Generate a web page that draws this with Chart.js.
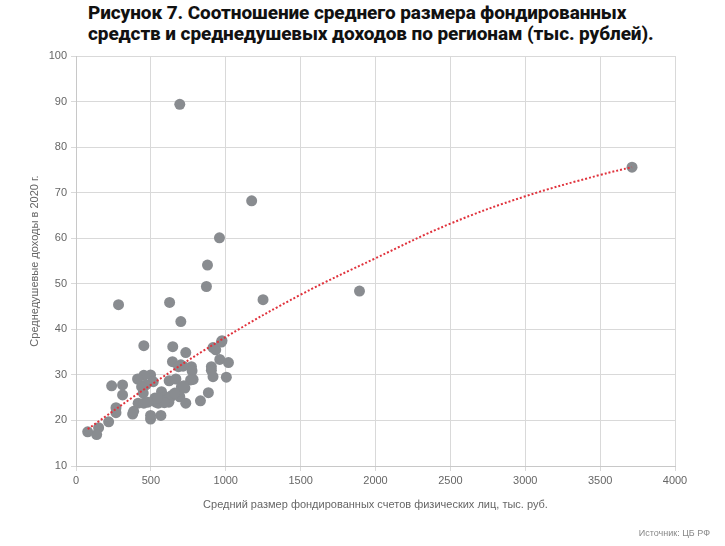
<!DOCTYPE html>
<html>
<head>
<meta charset="utf-8">
<script src="https://cdn.jsdelivr.net/npm/chart.js@4.4.1/dist/chart.umd.min.js"></script>
<style>
  body { margin: 0; background: #fff; width: 725px; height: 546px; position: relative; overflow: hidden; }
  #title { position: absolute; left: 88px; top: 2px; font: 800 19px Roboto, sans-serif; line-height: 21px; color: #111; letter-spacing: -0.1px; }
  #src { position: absolute; right: 15px; top: 528px; font: 9px 'Liberation Sans Narrow', 'Liberation Sans', sans-serif; color: #888; }
  canvas { position: absolute; left: 0; top: 0; }
</style>
</head>
<body>
<div id="title">Рисунок 7. Соотношение среднего размера фондированных<br>средств и среднедушевых доходов по регионам (тыс. рублей).</div>
<canvas id="chart" width="725" height="546"></canvas>
<div id="src">Источник: ЦБ РФ</div>
<script>
// средний размер фондированных счетов (тыс. руб.)
const fundX = [693, 1173, 958, 878, 871, 625, 1249, 284, 1893, 3713,
  700, 453, 646, 733, 915, 933, 971, 960, 1018, 644,
  700, 685, 771, 775, 904, 904, 915, 1004, 782, 765,
  622, 667, 498, 453, 411, 516, 467, 438, 449, 238,
  311, 311, 415, 453, 527, 533, 571, 593, 604, 627,
  571, 549, 704, 727, 693, 733, 831, 884, 378, 267,
  267, 498, 498, 567, 218, 151, 138, 78, 640, 620,
  480, 660, 590, 720, 975, 385, 545, 715];
// среднедушевые доходы в 2020 г.
const incomeY = [89.4, 68.2, 60.1, 54.1, 49.4, 45.9, 46.5, 45.4, 48.4, 75.6,
  41.7, 36.4, 36.2, 34.9, 36.0, 35.5, 37.2, 33.4, 32.7, 32.9,
  32.2, 31.8, 31.8, 30.9, 31.8, 31.0, 29.6, 29.5, 29.0, 28.9,
  28.7, 29.1, 30.0, 29.9, 29.1, 28.5, 27.8, 27.4, 26.0, 27.6,
  27.8, 25.6, 23.8, 23.8, 24.9, 24.0, 26.3, 25.2, 24.5, 24.9,
  24.1, 23.8, 27.4, 27.1, 25.2, 23.8, 24.3, 26.1, 21.4, 22.8,
  21.7, 21.1, 20.3, 21.1, 19.7, 18.4, 16.9, 17.5, 25.5, 24.0,
  24.0, 26.0, 23.9, 27.6, 37.5, 22.0, 24.9, 31.9];

// линия тренда
const trendX = [78, 500, 1000, 1500, 2000, 2500, 3000, 3500, 3713];
const trendY = [18.1, 27.8, 38.3, 47.6, 55.6, 63.2, 69.2, 73.9, 75.6];

const xTicks = [0, 500, 1000, 1500, 2000, 2500, 3000, 3500, 4000];
const yTicks = [10, 20, 30, 40, 50, 60, 70, 80, 90, 100];

const tickFont = { family: "'Liberation Sans Narrow', 'Liberation Sans', sans-serif", size: 11 };
const titleFont = { family: "'Liberation Sans', sans-serif", size: 11 };

new Chart(document.getElementById('chart'), {
  type: 'scatter',
  data: {
    datasets: [
      {
        type: 'line',
        data: trendX.map((x, i) => ({ x: x, y: trendY[i] })),
        borderColor: '#e0323c',
        borderWidth: 2,
        borderDash: [2, 2],
        pointRadius: 0,
        tension: 0.4,
        fill: false,
        order: 0
      },
      {
        data: fundX.map((x, i) => ({ x: x, y: incomeY[i] })),
        backgroundColor: '#898c90',
        borderWidth: 0,
        pointRadius: 5.5,
        order: 1
      }
    ]
  },
  options: {
    responsive: false,
    animation: false,
    layout: { padding: { left: 24, top: 56, right: 50, bottom: 30 } },
    plugins: { legend: { display: false }, tooltip: { enabled: false } },
    scales: {
      x: {
        type: 'linear',
        min: 0, max: 4000,
        afterBuildTicks: s => { s.ticks = xTicks.map(v => ({ value: v })); },
        afterFit: s => { s.height = 50; },
        grid: { color: '#d9d9d9', tickLength: 5 },
        border: { color: '#c8c8c8' },
        ticks: { color: '#666', font: tickFont, padding: 3, maxRotation: 0, callback: v => String(v) },
        title: { display: true, text: 'Средний размер фондированных счетов физических лиц, тыс. руб.', color: '#666', font: titleFont }
      },
      y: {
        min: 10, max: 100,
        afterBuildTicks: s => { s.ticks = yTicks.map(v => ({ value: v })); },
        afterFit: s => { s.width = 52; },
        grid: { color: '#d9d9d9', tickLength: 5 },
        border: { color: '#c8c8c8' },
        ticks: { color: '#666', font: tickFont, padding: 4, callback: v => String(v) },
        title: { display: true, text: 'Среднедушевые доходы в 2020 г.', color: '#666', font: titleFont }
      }
    }
  }
});
</script>
</body>
</html>
